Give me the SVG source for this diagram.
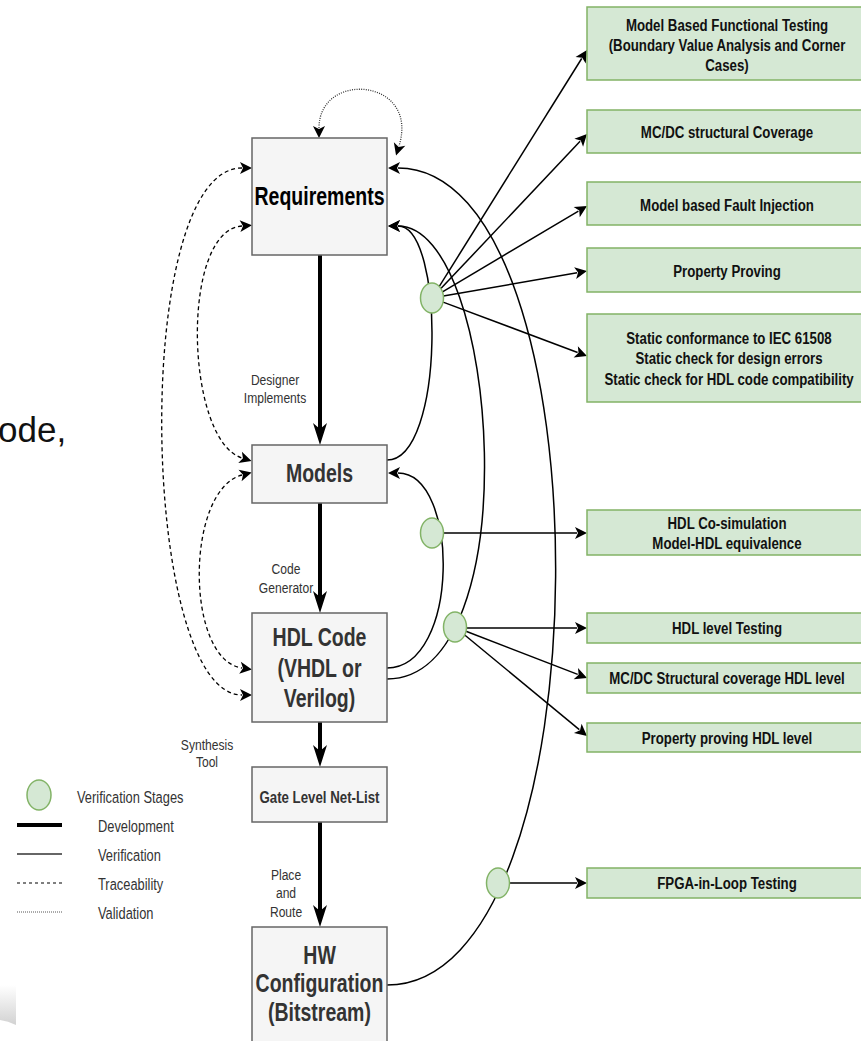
<svg xmlns="http://www.w3.org/2000/svg" width="861" height="1041" viewBox="0 0 861 1041">
  <style>
    text { font-family: "Liberation Sans", Arial, sans-serif; }
    .cx { transform-box: fill-box; transform-origin: 50% 50%; transform: scaleX(0.78); text-anchor: middle; }
    .lx { transform-box: fill-box; transform-origin: 0% 50%; transform: scaleX(0.78); text-anchor: start; }
    .big { font-size: 25px; font-weight: bold; fill: #333; }
    .gt { font-size: 17px; font-weight: bold; fill: #111; }
    .lbl { font-size: 15.5px; fill: #333; }
    .leg { font-size: 16.5px; fill: #333; }
    .box { fill: #f5f5f5; stroke: #666; stroke-width: 1.5; }
    .gbox { fill: #d5e8d4; stroke: #82b366; stroke-width: 1.5; }
    .stage { fill: #d5e8d4; stroke: #82b366; stroke-width: 1.5; }
    .dev { fill: none; stroke: #000; stroke-width: 4; marker-end: url(#headDev); }
    .verA { fill: none; stroke: #000; stroke-width: 1.5; marker-end: url(#head); }
    .trc { fill: none; stroke: #000; stroke-width: 1.3; stroke-dasharray: 4 3; marker-start: url(#head); marker-end: url(#head); }
    .val { fill: none; stroke: #333; stroke-width: 1.3; stroke-dasharray: 1 1.3; marker-start: url(#head); marker-end: url(#head); }
  </style>
  <defs>
    <marker id="head" viewBox="-4 -8 16 16" markerWidth="16" markerHeight="16" refX="0" refY="0" markerUnits="userSpaceOnUse" orient="auto-start-reverse">
      <path d="M10,0 L-2,-6 L1,0 L-2,6 Z" fill="#000"/>
    </marker>
    <marker id="headDev" viewBox="-10 -9 26 18" markerWidth="26" markerHeight="18" refX="0" refY="0" markerUnits="userSpaceOnUse" orient="auto">
      <path d="M14,0 L-8,-7 L-2,0 L-8,7 Z" fill="#000"/>
    </marker>
    <linearGradient id="curl" x1="0" y1="0" x2="0" y2="1">
      <stop offset="0" stop-color="#ffffff"/>
      <stop offset="1" stop-color="#d2d2d2"/>
    </linearGradient>
  </defs>

  <!-- slide residue at the left margin -->
  <text x="-2" y="442" font-family="'Open Sans', sans-serif" font-size="35" fill="#111">ode,</text>
  <path d="M0 985 L16 985 L16 1025 Q8 1021 0 1020 Z" fill="url(#curl)"/>

  <g id="connectors">
    <!-- development flow -->
    <path class="dev" d="M320 255 V431"/>
    <path class="dev" d="M320 503 V599"/>
    <path class="dev" d="M320 722 V753"/>
    <path class="dev" d="M320 822 V913"/>

    <!-- validation self loop on requirements -->
    <path class="val" d="M319 128 C319 70, 420 78, 399 146"/>

    <!-- traceability -->
    <path class="trc" d="M242 226 C180 230, 185 440, 242 458"/>
    <path class="trc" d="M242 475 C185 490, 185 660, 242 668"/>
    <path class="trc" d="M242 168 C130 168, 140 695, 242 695"/>

    <!-- verification back-links -->
    <path class="verA" d="M387 985 C610 985, 610 168, 398 168"/>
    <path class="verA" d="M387 679 C530 679, 500 226, 398 226"/>
    <path class="verA" d="M387 460 C445 460, 445 226, 398 226"/>
    <path class="verA" d="M387 668 C460 668, 460 473, 398 473"/>

    <!-- stage outputs -->
    <path class="verA" d="M439.3 286.4 L581.7 58.5"/>
    <path class="verA" d="M440.9 288.6 L580.1 141.3"/>
    <path class="verA" d="M442.5 291.8 L578.4 211.1"/>
    <path class="verA" d="M443.4 296 L577.1 272.7"/>
    <path class="verA" d="M443.1 302.1 L577.6 352.5"/>
    <path class="verA" d="M443.5 533 H577"/>
    <path class="verA" d="M466.5 628 H577"/>
    <path class="verA" d="M466 631.3 L577.7 674.4"/>
    <path class="verA" d="M464.7 635 L579.3 729.6"/>
    <path class="verA" d="M509.5 883 H577"/>
  </g>

  <g id="requirements">
    <rect class="box" x="252" y="138" width="135" height="117"/>
    <text class="cx big" x="319.5" y="205" style="fill:#000">Requirements</text>
  </g>
  <g id="models">
    <rect class="box" x="252" y="445" width="135" height="58"/>
    <text class="cx big" x="319.5" y="482">Models</text>
  </g>
  <g id="hdl-code">
    <rect class="box" x="252" y="613" width="135" height="109"/>
    <text class="cx big" x="319.5" y="646">HDL Code</text>
    <text class="cx big" x="319.5" y="677">(VHDL or</text>
    <text class="cx big" x="319.5" y="707">Verilog)</text>
  </g>
  <g id="gate-netlist">
    <rect class="box" x="252" y="767" width="135" height="55"/>
    <text class="cx gt" x="319.5" y="803" style="fill:#333">Gate Level Net-List</text>
  </g>
  <g id="hw-config">
    <rect class="box" x="252" y="927" width="135" height="120"/>
    <text class="cx big" x="319.5" y="964">HW</text>
    <text class="cx big" x="319.5" y="992">Configuration</text>
    <text class="cx big" x="319.5" y="1021">(Bitstream)</text>
  </g>

  <g id="edge-labels">
    <text class="cx lbl" x="275" y="385.5">Designer</text>
    <text class="cx lbl" x="275" y="403.5">Implements</text>
    <text class="cx lbl" x="286" y="574.5">Code</text>
    <text class="cx lbl" x="286" y="593.5">Generator</text>
    <text class="cx lbl" x="207" y="750.5">Synthesis</text>
    <text class="cx lbl" x="207" y="767.5">Tool</text>
    <text class="cx lbl" x="286" y="880.5">Place</text>
    <text class="cx lbl" x="286" y="898.5">and</text>
    <text class="cx lbl" x="286" y="917.5">Route</text>
  </g>

  <g id="stage-1"><ellipse class="stage" cx="432" cy="298" rx="11.5" ry="15"/></g>
  <g id="stage-2"><ellipse class="stage" cx="432" cy="533" rx="11.5" ry="15"/></g>
  <g id="stage-3"><ellipse class="stage" cx="455" cy="627" rx="11.5" ry="15"/></g>
  <g id="stage-4"><ellipse class="stage" cx="498" cy="883" rx="11.5" ry="15"/></g>

  <g id="mbt">
    <rect class="gbox" x="587" y="7" width="285" height="73"/>
    <text class="cx gt" x="727" y="31">Model Based Functional Testing</text>
    <text class="cx gt" x="727" y="51">(Boundary Value Analysis and Corner</text>
    <text class="cx gt" x="727" y="71">Cases)</text>
  </g>
  <g id="mcdc">
    <rect class="gbox" x="587" y="110" width="285" height="43"/>
    <text class="cx gt" x="727" y="138">MC/DC structural Coverage</text>
  </g>
  <g id="fault-injection">
    <rect class="gbox" x="587" y="182" width="285" height="43"/>
    <text class="cx gt" x="727" y="211">Model based Fault Injection</text>
  </g>
  <g id="property-proving">
    <rect class="gbox" x="587" y="248" width="285" height="44"/>
    <text class="cx gt" x="727" y="277">Property Proving</text>
  </g>
  <g id="static-checks">
    <rect class="gbox" x="587" y="314" width="285" height="88"/>
    <text class="cx gt" x="729" y="344">Static conformance to IEC 61508</text>
    <text class="cx gt" x="729" y="364">Static check for design errors</text>
    <text class="cx gt" x="729" y="385">Static check for HDL code compatibility</text>
  </g>
  <g id="cosim">
    <rect class="gbox" x="587" y="510" width="285" height="45"/>
    <text class="cx gt" x="727" y="529">HDL Co-simulation</text>
    <text class="cx gt" x="727" y="549">Model-HDL equivalence</text>
  </g>
  <g id="hdl-testing">
    <rect class="gbox" x="587" y="613" width="285" height="30"/>
    <text class="cx gt" x="727" y="634">HDL level Testing</text>
  </g>
  <g id="hdl-mcdc">
    <rect class="gbox" x="587" y="663" width="285" height="30"/>
    <text class="cx gt" x="727" y="684">MC/DC Structural coverage HDL level</text>
  </g>
  <g id="hdl-property">
    <rect class="gbox" x="587" y="723" width="285" height="29"/>
    <text class="cx gt" x="727" y="744">Property proving HDL level</text>
  </g>
  <g id="fpga-loop">
    <rect class="gbox" x="587" y="868" width="285" height="30"/>
    <text class="cx gt" x="727" y="889">FPGA-in-Loop Testing</text>
  </g>

  <g id="legend">
    <ellipse class="stage" cx="39" cy="795" rx="12" ry="15"/>
    <text class="lx leg" x="77" y="803">Verification Stages</text>
    <line x1="17" y1="825" x2="62" y2="825" stroke="#000" stroke-width="4"/>
    <text class="lx leg" x="98" y="832">Development</text>
    <line x1="17" y1="854" x2="62" y2="854" stroke="#333" stroke-width="1.3"/>
    <text class="lx leg" x="98" y="861">Verification</text>
    <line x1="17" y1="883" x2="62" y2="883" stroke="#000" stroke-width="1.2" stroke-dasharray="3 3"/>
    <text class="lx leg" x="98" y="890">Traceability</text>
    <line x1="17" y1="912" x2="62" y2="912" stroke="#555" stroke-width="1" stroke-dasharray="1 1"/>
    <text class="lx leg" x="98" y="919">Validation</text>
  </g>
</svg>
